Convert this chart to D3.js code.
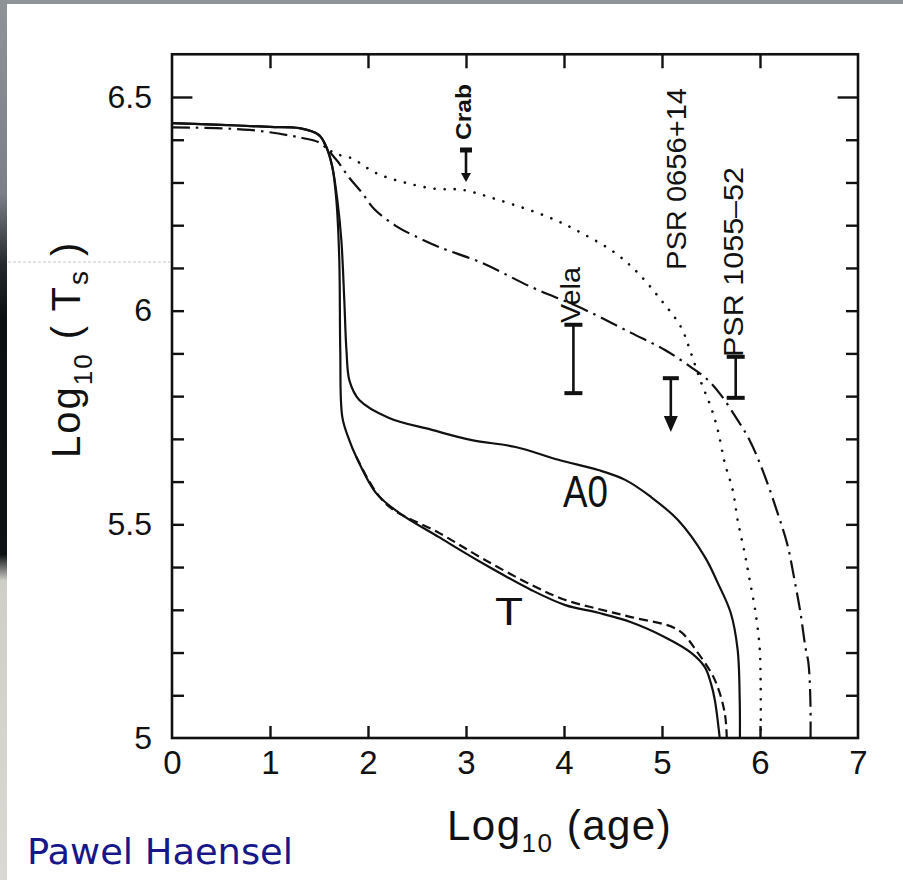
<!DOCTYPE html>
<html>
<head>
<meta charset="utf-8">
<script src="https://cdn.jsdelivr.net/npm/d3@7"></script>
<style>
  html, body { margin: 0; padding: 0; background: #ffffff; }
  svg { display: block; }
</style>
</head>
<body>
<svg id="chart" width="903" height="880"></svg>
<script>
// ---------------- DATA ----------------
const xTickValues = [0, 1, 2, 3, 4, 5, 6, 7];
const xTickLabels = ["0", "1", "2", "3", "4", "5", "6", "7"];
const yTickValues = [5, 5.5, 6, 6.5];
const yTickLabels = ["5", "5.5", "6", "6.5"];

// solid curve labelled "A0"  [log10(age), log10(Ts)]
const curveA0 = [
  [0, 6.439], [0.5, 6.435], [1.0, 6.43], [1.3, 6.427], [1.5, 6.411], [1.575, 6.383],
  [1.636, 6.336], [1.687, 6.259], [1.728, 6.165], [1.758, 6.025], [1.78, 5.908],
  [1.812, 5.835], [1.911, 5.791], [2.215, 5.749], [2.652, 5.721], [3.059, 5.697],
  [3.506, 5.681], [3.943, 5.651], [4.35, 5.627], [4.624, 5.604], [4.888, 5.564],
  [5.163, 5.51], [5.437, 5.424], [5.569, 5.363], [5.701, 5.293], [5.772, 5.206],
  [5.793, 5.089], [5.795, 5.0]
];
// solid curve labelled "T"
const curveT = [
  [0, 6.439], [0.5, 6.435], [1.0, 6.43], [1.3, 6.427], [1.5, 6.411], [1.575, 6.383],
  [1.636, 6.336], [1.677, 6.259], [1.707, 6.119], [1.717, 5.908], [1.738, 5.751],
  [1.809, 5.697], [1.88, 5.658], [2.083, 5.573], [2.317, 5.527], [2.724, 5.47],
  [3.161, 5.41], [3.669, 5.346], [4.014, 5.311], [4.35, 5.293], [4.685, 5.271],
  [5.03, 5.236], [5.295, 5.2], [5.437, 5.166], [5.498, 5.129], [5.539, 5.089], [5.589, 5.0]
];
// dashed curve
const curveDashed = [
  [1.88, 5.658], [2.083, 5.575], [2.246, 5.536], [2.724, 5.48], [3.161, 5.421],
  [3.669, 5.358], [4.014, 5.323], [4.35, 5.302], [4.685, 5.283], [5.163, 5.253],
  [5.366, 5.199], [5.539, 5.136], [5.64, 5.059], [5.661, 5.0]
];
// dotted curve
const curveDotted = [
  [1.5, 6.411], [1.636, 6.371], [1.829, 6.357], [2.083, 6.322], [2.388, 6.299],
  [2.693, 6.285], [2.957, 6.283], [3.333, 6.259], [3.841, 6.219], [4.177, 6.182],
  [4.522, 6.135], [4.756, 6.088], [4.99, 6.025], [5.193, 5.962], [5.295, 5.901],
  [5.396, 5.834], [5.498, 5.775], [5.569, 5.721], [5.64, 5.644], [5.722, 5.58],
  [5.772, 5.51], [5.843, 5.433], [5.894, 5.37], [5.955, 5.293], [5.996, 5.213],
  [6.006, 5.136], [6.008, 5.0]
];
// dash-dot curve
const curveDashDot = [
  [0, 6.429], [0.79, 6.423], [1.331, 6.404], [1.504, 6.393], [1.677, 6.353],
  [1.809, 6.311], [1.931, 6.278], [2.063, 6.238], [2.287, 6.198], [2.52, 6.17],
  [2.724, 6.149], [3.161, 6.112], [3.669, 6.055], [4.177, 6.006], [4.685, 5.948],
  [5.03, 5.908], [5.295, 5.868], [5.467, 5.838], [5.6, 5.803], [5.772, 5.744],
  [5.894, 5.697], [6.026, 5.627], [6.179, 5.527], [6.28, 5.452], [6.352, 5.37],
  [6.413, 5.293], [6.463, 5.213], [6.494, 5.176], [6.514, 5.089], [6.516, 5.0]
];

// observed pulsars
const obsNames = ["Crab", "Vela", "PSR 0656+14", "PSR 1055\u201352"];
const obsAge   = [3.0, 4.096, 5.09, 5.752];
const obsHigh  = [6.376, 5.967, 5.842, 5.892];
const obsLow   = [6.301, 5.807, 5.716, 5.796];
const obsUpperLimit = [true, false, true, false];

const curveNames = ["A0", "T"];

// ---------------- DRAWING ----------------
const W = 903, H = 880;
const svg = d3.select("#chart");

const x = d3.scaleLinear().domain([0, 7]).range([172, 858]);
const y = d3.scaleLinear().domain([5, 6.5]).range([738, 97]);
const yTop = 6.6;

// scanned-page background bits
const defs = svg.append("defs");
const grad = defs.append("linearGradient").attr("id", "strip").attr("x1", 0).attr("x2", 0).attr("y1", 0).attr("y2", 1);
[[0, "#8e9398"], [0.22, "#7a8086"], [0.3, "#262a2e"], [0.36, "#0c0f12"], [0.63, "#0f1215"], [0.66, "#cfcfc8"], [1, "#d9d8d2"]]
  .forEach(([o, c]) => grad.append("stop").attr("offset", o).attr("stop-color", c));
svg.append("rect").attr("width", W).attr("height", H).attr("fill", "#ffffff");
svg.append("rect").attr("x", 0).attr("y", 0).attr("width", W).attr("height", 4).attr("fill", "#8e9398");
svg.append("rect").attr("x", 0).attr("y", 0).attr("width", 7).attr("height", H).attr("fill", "url(#strip)");
svg.append("line").attr("x1", 8).attr("x2", 170).attr("y1", 262).attr("y2", 262)
  .attr("stroke", "#c8c8c8").attr("stroke-width", 1).attr("stroke-dasharray", "3 2");

const ink = "#111111";
const fontSans = "'Liberation Sans', Arial, sans-serif";

// frame
const g = svg.append("g");
g.append("rect")
  .attr("x", x(0)).attr("y", y(yTop))
  .attr("width", x(7) - x(0)).attr("height", y(5) - y(yTop))
  .attr("fill", "none").attr("stroke", ink).attr("stroke-width", 2.6);

// minor ticks every 0.1 on left and right
const yMinor = d3.range(51, 66).map(v => v / 10);
const leftAxis = d3.axisLeft(y).tickValues(yMinor).tickSize(-12).tickFormat("");
const rightAxis = d3.axisRight(y).tickValues(yMinor).tickSize(-12).tickFormat("");
const ga1 = g.append("g").attr("transform", `translate(${x(0)},0)`).call(leftAxis);
const ga2 = g.append("g").attr("transform", `translate(${x(7)},0)`).call(rightAxis);
[ga1, ga2].forEach(a => {
  a.select(".domain").remove();
  a.selectAll(".tick line").attr("stroke", ink).attr("stroke-width", 2.4)
    .attr("x2", function(d) { const s = +d3.select(this).attr("x2"); return Math.abs(d - 6.5) < 1e-6 ? s * 1.7 : s; });
});

// x ticks top and bottom
const xInner = [1, 2, 3, 4, 5, 6];
const topAxis = d3.axisTop(x).tickValues(xInner).tickSize(-14).tickFormat("");
const botAxis = d3.axisBottom(x).tickValues(xInner).tickSize(-12).tickFormat("");
const gt = g.append("g").attr("transform", `translate(0,${y(yTop)})`).call(topAxis);
const gb = g.append("g").attr("transform", `translate(0,${y(5)})`).call(botAxis);
[gt, gb].forEach(a => {
  a.select(".domain").remove();
  a.selectAll(".tick line").attr("stroke", ink).attr("stroke-width", 2.4);
});

// tick labels
const xLab = d3.axisBottom(x).tickValues(xTickValues).tickSize(0).tickPadding(13)
  .tickFormat((d, i) => xTickLabels[i]);
const gxl = g.append("g").attr("transform", `translate(0,${y(5)})`).call(xLab);
gxl.select(".domain").remove();
gxl.selectAll("text").attr("font-family", fontSans).attr("font-size", 33).attr("fill", ink);

const yLab = d3.axisLeft(y).tickValues(yTickValues).tickSize(0).tickPadding(20)
  .tickFormat((d, i) => yTickLabels[i]);
const gyl = g.append("g").attr("transform", `translate(${x(0)},0)`).call(yLab);
gyl.select(".domain").remove();
gyl.selectAll("text").attr("font-family", fontSans).attr("font-size", 32).attr("fill", ink);

// curves
const line = d3.line().x(d => x(d[0])).y(d => y(d[1])).curve(d3.curveCatmullRom.alpha(0.5));
const clip = defs.append("clipPath").attr("id", "plotclip");
clip.append("rect").attr("x", x(0)).attr("y", y(yTop)).attr("width", x(7) - x(0)).attr("height", y(5) - y(yTop));
const gc = g.append("g").attr("clip-path", "url(#plotclip)");

gc.append("path").datum(curveDotted).attr("d", line)
  .attr("fill", "none").attr("stroke", ink).attr("stroke-width", 2.6)
  .attr("stroke-linecap", "round").attr("stroke-dasharray", "0.1 10");
gc.append("path").datum(curveDashDot).attr("d", line)
  .attr("fill", "none").attr("stroke", ink).attr("stroke-width", 2.2)
  .attr("stroke-dasharray", "18 6 2.5 6");
gc.append("path").datum(curveDashed).attr("d", line)
  .attr("fill", "none").attr("stroke", ink).attr("stroke-width", 2.2)
  .attr("stroke-dasharray", "9 5");
gc.append("path").datum(curveT).attr("d", line)
  .attr("fill", "none").attr("stroke", ink).attr("stroke-width", 2.2);
gc.append("path").datum(curveA0).attr("d", line)
  .attr("fill", "none").attr("stroke", ink).attr("stroke-width", 2.2);

// observations
obsNames.forEach((name, i) => {
  const cx = x(obsAge[i]);
  const yh = y(obsHigh[i]), yl = y(obsLow[i]);
  const og = g.append("g");
  if (obsUpperLimit[i]) {
    const capW = i === 0 ? 12 : 16;
    og.append("line").attr("x1", cx - capW / 2).attr("x2", cx + capW / 2).attr("y1", yh).attr("y2", yh)
      .attr("stroke", ink).attr("stroke-width", i === 0 ? 5 : 4);
    og.append("line").attr("x1", cx).attr("x2", cx).attr("y1", yh).attr("y2", yl - 8)
      .attr("stroke", ink).attr("stroke-width", 2.6);
    const aw = i === 0 ? 5 : 7, ah = i === 0 ? 9 : 16;
    og.append("path").attr("d", `M${cx - aw},${yl - ah} L${cx + aw},${yl - ah} L${cx},${yl} Z`).attr("fill", ink);
  } else {
    og.append("line").attr("x1", cx).attr("x2", cx).attr("y1", yh).attr("y2", yl)
      .attr("stroke", ink).attr("stroke-width", 2.6);
    [yh, yl].forEach(yy => og.append("line").attr("x1", cx - 9).attr("x2", cx + 9).attr("y1", yy).attr("y2", yy)
      .attr("stroke", ink).attr("stroke-width", 4));
  }
});

// observation labels (rotated)
const obsLabelPos = [[463, 112, 22, 56, 700], [571, 295, 27, 56, 400], [676, 179, 28, 182, 400], [733, 262, 28, 190, 400]];
obsNames.forEach((name, i) => {
  const [lx, ly, fs, tl, fw] = obsLabelPos[i];
  g.append("text")
    .attr("transform", `translate(${lx},${ly}) rotate(-90)`)
    .attr("text-anchor", "middle").attr("dominant-baseline", "central")
    .attr("font-family", fontSans).attr("font-size", fs).attr("font-weight", fw)
    .attr("textLength", tl).attr("lengthAdjust", "spacingAndGlyphs")
    .attr("fill", ink).text(name);
});

// curve labels
const curveLabelPos = [[563, 507, 44, 45], [495, 625, 38, 28]];
curveNames.forEach((name, i) => {
  const [lx, ly, fs, tl] = curveLabelPos[i];
  g.append("text").attr("x", lx).attr("y", ly)
    .attr("font-family", fontSans).attr("font-size", fs).attr("font-weight", 300)
    .attr("textLength", tl).attr("lengthAdjust", "spacingAndGlyphs")
    .attr("fill", ink).text(name);
});

// axis titles
const yt = svg.append("text")
  .attr("transform", `translate(80,458) rotate(-90)`)
  .attr("font-family", fontSans).attr("font-size", 40).attr("font-weight", 300)
  .attr("fill", ink).attr("letter-spacing", 2);
yt.append("tspan").text("Log");
yt.append("tspan").attr("font-size", 26).attr("dy", 12).text("10");
yt.append("tspan").attr("dy", -12).text(" ( T");
yt.append("tspan").attr("font-size", 28).attr("dy", 8).text("s");
yt.append("tspan").attr("dy", -8).text(" )");

const xt = svg.append("text")
  .attr("x", 447).attr("y", 840)
  .attr("font-family", fontSans).attr("font-size", 42).attr("font-weight", 300)
  .attr("fill", ink).attr("letter-spacing", 1.5);
xt.append("tspan").text("Log");
xt.append("tspan").attr("font-size", 26).attr("dy", 12).text("10");
xt.append("tspan").attr("dy", -12).text(" (age)");

// credit
svg.append("text").attr("x", 27).attr("y", 864)
  .attr("font-family", "'DejaVu Sans', Verdana, sans-serif").attr("font-size", 36)
  .attr("textLength", 266).attr("lengthAdjust", "spacingAndGlyphs")
  .attr("fill", "#17178a").text("Pawel Haensel");
</script>
</body>
</html>
